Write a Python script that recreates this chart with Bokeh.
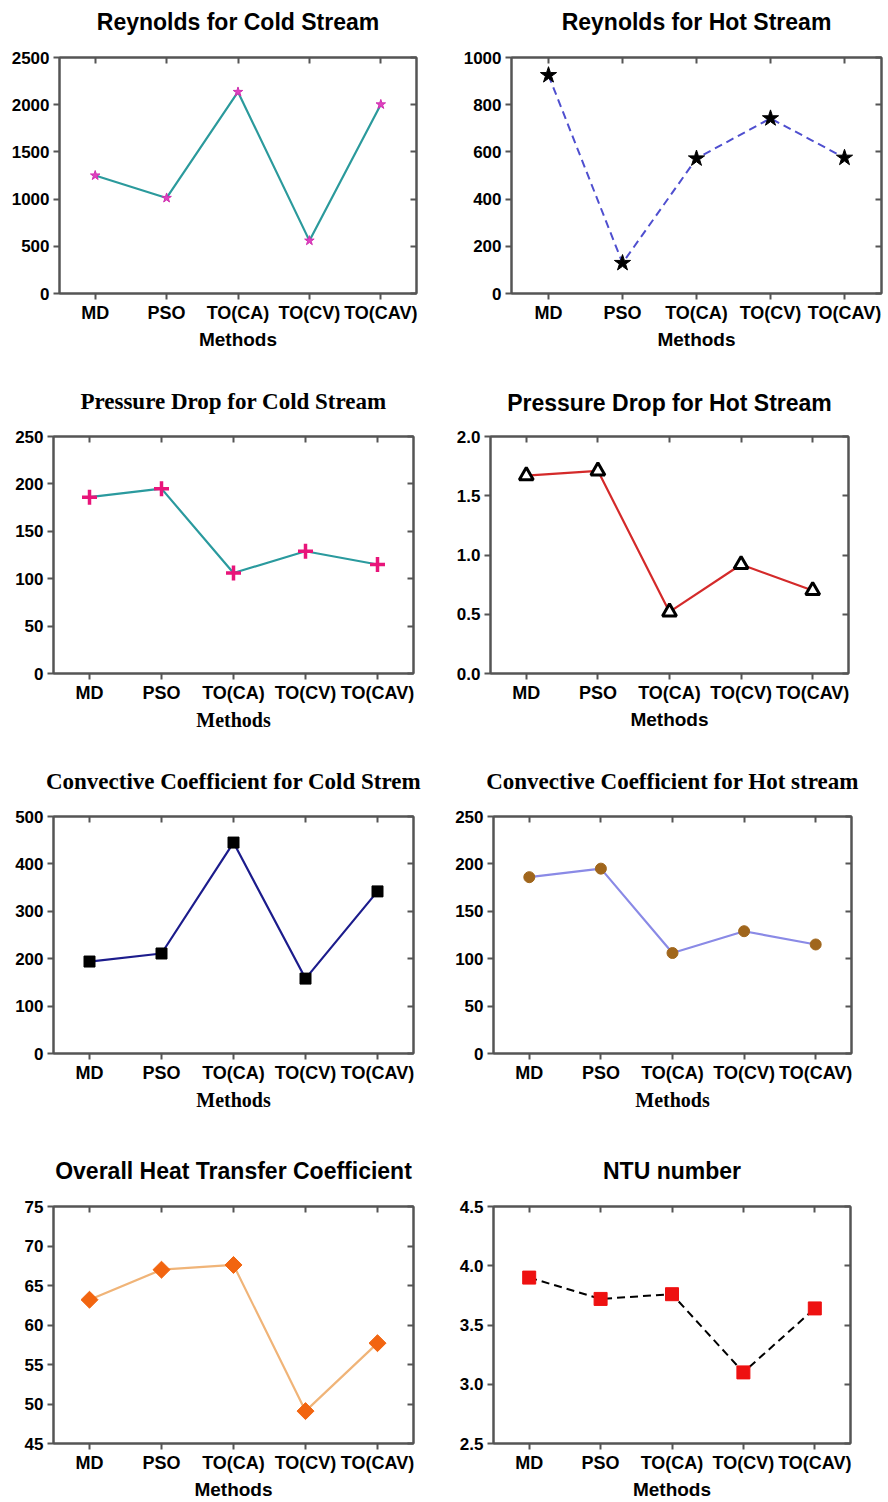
import math
from bokeh.plotting import figure
from bokeh.layouts import column, row
from bokeh.models import FactorRange, Range1d, LinearAxis, FixedTicker, NumeralTickFormatter
from bokeh.embed import file_html
from bokeh.resources import INLINE

# ---------------- data ----------------
methods = ["MD", "PSO", "TO(CA)", "TO(CV)", "TO(CAV)"]

re_cold = [1250, 1012, 2135, 560, 2003]
re_hot = [925, 129, 572, 742, 575]
dp_cold = [186, 195, 106, 129, 115]
dp_hot = [1.67, 1.71, 0.52, 0.92, 0.70]
h_cold = [194, 211, 445, 158, 342]
h_hot = [186, 195, 106, 129, 115]
u_overall = [63.2, 67.0, 67.6, 49.1, 57.7]
ntu = [3.90, 3.72, 3.76, 3.10, 3.64]

re_cold_ticks = [0, 500, 1000, 1500, 2000, 2500]
re_hot_ticks = [0, 200, 400, 600, 800, 1000]
dp_cold_ticks = [0, 50, 100, 150, 200, 250]
dp_hot_ticks = [0.0, 0.5, 1.0, 1.5, 2.0]
h_cold_ticks = [0, 100, 200, 300, 400, 500]
h_hot_ticks = [0, 50, 100, 150, 200, 250]
u_ticks = [45, 50, 55, 60, 65, 70, 75]
ntu_ticks = [2.5, 3.0, 3.5, 4.0, 4.5]

AX = "#555555"
SANS = "Liberation Sans"
SERIF = "Liberation Serif"

# synthetic centre of each category on a FactorRange (used for mirrored top ticks)
cat_centres = [methods.index(m) + 0.5 for m in methods]


def make_fig(title, tfont, lfont, ticks, fmt, w, h, mbl, mbr, mbt, mbb, standoff=23):
    p = figure(x_range=FactorRange(*methods), y_range=Range1d(ticks[0], ticks[-1]),
               width=w, height=h, output_backend="svg", toolbar_location=None, title=None,
               min_border_left=mbl, min_border_right=mbr, min_border_top=mbt, min_border_bottom=mbb,
               background_fill_color="white", border_fill_color="white")
    p.outline_line_color = AX
    p.outline_line_width = 2
    p.xgrid.visible = False
    p.ygrid.visible = False

    for ax in (p.xaxis[0], p.yaxis[0]):
        ax.axis_line_color = AX
        ax.axis_line_width = 2
        ax.major_tick_line_color = AX
        ax.major_tick_line_width = 2
        ax.major_tick_out = 6
        ax.major_tick_in = 0
        ax.minor_tick_line_color = None
        ax.major_label_text_font = SANS
        ax.major_label_text_font_style = "bold"
        ax.major_label_text_color = "black"
    p.xaxis[0].major_label_text_font_size = "18px"
    p.yaxis[0].major_label_text_font_size = "17px"
    p.yaxis[0].major_label_standoff = 4
    p.yaxis[0].ticker = FixedTicker(ticks=ticks)
    if fmt:
        p.yaxis[0].formatter = NumeralTickFormatter(format=fmt)
    p.xaxis[0].major_label_standoff = 3
    p.xaxis[0].axis_label = "Methods"
    p.xaxis[0].axis_label_text_font = lfont
    p.xaxis[0].axis_label_text_font_style = "bold"
    p.xaxis[0].axis_label_text_font_size = "20px" if lfont == SERIF else "19px"
    p.xaxis[0].axis_label_text_color = "black"
    p.xaxis[0].axis_label_standoff = 3

    # mirrored inward ticks on the right spine (minor ticks only, no labels)
    right = LinearAxis(ticker=FixedTicker(ticks=[], minor_ticks=ticks),
                       major_label_standoff=0, major_tick_in=0, major_tick_out=0,
                       minor_tick_in=6, minor_tick_out=0,
                       minor_tick_line_color=AX, minor_tick_line_width=2,
                       axis_line_color=AX, axis_line_width=2)
    p.add_layout(right, "right")
    # top spine: inward ticks at the categories, chart title as its label
    top = LinearAxis(ticker=FixedTicker(ticks=[], minor_ticks=cat_centres),
                     major_label_standoff=0, major_tick_in=0, major_tick_out=0,
                     minor_tick_in=6, minor_tick_out=0,
                     minor_tick_line_color=AX, minor_tick_line_width=2,
                     axis_line_color=AX, axis_line_width=2,
                     axis_label=title, axis_label_standoff=standoff,
                     axis_label_text_font=tfont, axis_label_text_font_size="23px",
                     axis_label_text_font_style="bold", axis_label_text_color="black")
    p.add_layout(top, "above")
    return p


# Row 1
p1 = make_fig("Reynolds for Cold Stream", SANS, SANS, re_cold_ticks, None, 444, 370, 59, 28, 57, 75)
p1.line(methods, re_cold, line_color="#2b9a9c", line_width=2.2)
p1.scatter(methods, re_cold, marker="star", size=10, fill_color="#e040c0", line_color="#d030b0")

p2 = make_fig("Reynolds for Hot Stream", SANS, SANS, re_hot_ticks, None, 444, 370, 67, 7, 50, 77)
p2.line(methods, re_hot, line_color="#4f4fcf", line_width=2, line_dash="8 5")
p2.scatter(methods, re_hot, marker="star", size=17, fill_color="black", line_color="black")

# Row 2
p3 = make_fig("Pressure Drop for Cold Stream", SERIF, SERIF, dp_cold_ticks, None, 444, 380, 53, 31, 64, 77)
p3.line(methods, dp_cold, line_color="#2a9a9e", line_width=2.2)
p3.scatter(methods, dp_cold, marker="cross", size=15, line_color="#e8157a", line_width=3.5)

p4 = make_fig("Pressure Drop for Hot Stream", SANS, SANS, dp_hot_ticks, "0.0", 444, 380, 46, 40, 66, 76, standoff=21)
p4.line(methods, dp_hot, line_color="#d42a2a", line_width=2.2)
p4.scatter(methods, dp_hot, marker="triangle", size=14, fill_color="white", line_color="black", line_width=3)

# Row 3
p5 = make_fig("Convective Coefficient for Cold Strem", SERIF, SERIF, h_cold_ticks, None, 444, 385, 53, 31, 63, 82)
p5.line(methods, h_cold, line_color="#1c1c8c", line_width=2.2)
p5.scatter(methods, h_cold, marker="square", size=11, fill_color="black", line_color="black")

p6 = make_fig("Convective Coefficient for Hot stream", SERIF, SERIF, h_hot_ticks, None, 444, 385, 49, 37, 66, 81)
p6.line(methods, h_hot, line_color="#8a8ae6", line_width=2.2)
p6.scatter(methods, h_hot, marker="circle", size=11, fill_color="#a0661c", line_color="#a0661c")

# Row 4
p7 = make_fig("Overall Heat Transfer Coefficient", SANS, SANS, u_ticks, None, 444, 367, 53, 31, 71, 58)
p7.line(methods, u_overall, line_color="#f0b478", line_width=2.2)
p7.scatter(methods, u_overall, marker="square", angle=math.pi / 4, size=12,
           fill_color="#f26510", line_color="#f26510")

p8 = make_fig("NTU number", SANS, SANS, ntu_ticks, "0.0", 444, 367, 49, 38, 71, 59)
p8.line(methods, ntu, line_color="black", line_width=2, line_dash="8 5")
p8.scatter(methods, ntu, marker="square", size=13, fill_color="#ee1111", line_color="#ee1111")

layout = column(row(p1, p2), row(p3, p4), row(p5, p6), row(p7, p8))

open("out.html", "w").write(file_html(layout, INLINE))
